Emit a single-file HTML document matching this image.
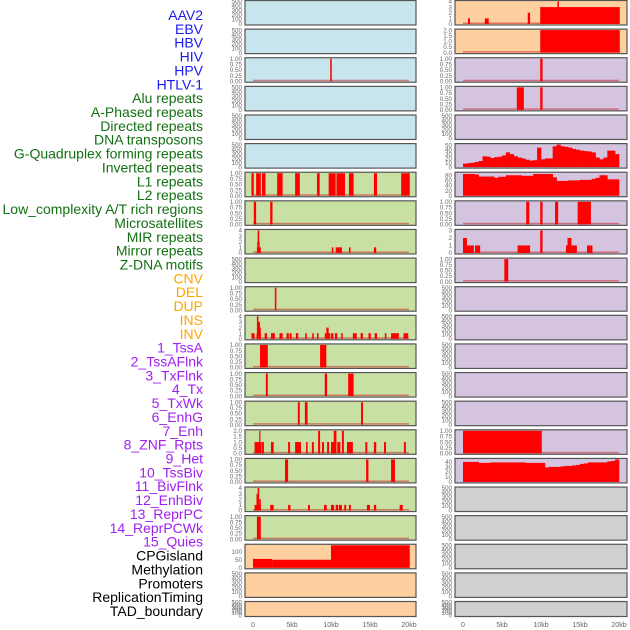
<!DOCTYPE html>
<html><head><meta charset="utf-8"><style>
html,body{margin:0;padding:0;background:#fff;width:630px;height:630px;overflow:hidden}
svg{display:block;font-family:"Liberation Sans",sans-serif}
</style></head><body>
<svg id="chart" width="630" height="630"></svg>
<script>
const NS='http://www.w3.org/2000/svg';
const labels=["AAV2","EBV","HBV","HIV","HPV","HTLV-1","Alu repeats","A-Phased repeats","Directed repeats","DNA transposons","G-Quadruplex forming repeats","Inverted repeats","L1 repeats","L2 repeats","Low_complexity A/T rich regions","Microsatellites","MIR repeats","Mirror repeats","Z-DNA motifs","CNV","DEL","DUP","INS","INV","1_TssA","2_TssAFlnk","3_TxFlnk","4_Tx","5_TxWk","6_EnhG","7_Enh","8_ZNF_Rpts","9_Het","10_TssBiv","11_BivFlnk","12_EnhBiv","13_ReprPC","14_ReprPCWk","15_Quies","CPGisland","Methylation","Promoters","ReplicationTiming","TAD_boundary"];
const labelGroups=[6,13,5,15,5];
const groupColors=["#1a1aee","#137013","#ffa500","#a020f0","#000000"];
const xTicks=[0,5,10,15,20];
const xTickLabels=["0","5kb","10kb","15kb","20kb"];
const leftBg=["#c8e4ec","#c8e4ec","#c8e4ec","#c8e4ec","#c8e4ec","#c8e4ec","#c8e0a4","#c8e0a4","#c8e0a4","#c8e0a4","#c8e0a4","#c8e0a4","#c8e0a4","#c8e0a4","#c8e0a4","#c8e0a4","#c8e0a4","#c8e0a4","#c8e0a4","#fecf9f","#fecf9f","#fecf9f"];
const rightBg=["#fecf9f","#fecf9f","#d4c4e0","#d4c4e0","#d4c4e0","#d4c4e0","#d4c4e0","#d4c4e0","#d4c4e0","#d4c4e0","#d4c4e0","#d4c4e0","#d4c4e0","#d4c4e0","#d4c4e0","#d4c4e0","#d4c4e0","#d0d0d0","#d0d0d0","#d0d0d0","#d0d0d0","#d0d0d0"];
const leftYMax=[0,0,1,0,0,0,1,1,4,0,1,4,1,1,1,2,1,4,1,140,0,0];
const rightYMax=[4,2,1,1,0,52,88,1,3,1,0,0,0,0,0,1,45,0,0,0,0,0];
const leftIntervals={
 2:[[9.9,10.1,1]],
 6:[[-0.2,0.1,1],[0.4,1.0,1],[1.15,1.6,1],[3.1,3.8,1],[5.4,6.0,1],[8.2,8.55,1],[9.7,10.6,1],[10.7,11.8,1],[12.3,12.9,1],[15.5,15.9,1],[19.0,20.1,1]],
 7:[[0.1,0.4,1],[2.2,2.5,1]],
 8:[[0.5,1.0,1],[0.55,0.85,2],[0.6,0.8,4],[10.1,10.3,1],[10.6,11.4,1],[12.3,12.5,1],[15.5,15.8,1]],
 10:[[2.8,3.0,1]],
 11:[[-0.2,0.2,1],[0.45,1.0,1],[0.5,0.7,4],[0.6,0.9,3],[0.7,1.0,2],[1.5,1.8,1],[2.3,2.8,1],[3.4,3.8,1],[4.3,4.6,1],[4.7,4.95,1],[5.5,5.8,1],[6.7,6.9,1],[7.6,7.8,1],[8.2,8.4,1],[9.2,9.9,1],[9.4,9.7,2],[10.0,10.3,1],[10.5,10.8,1],[11.3,11.5,1],[12.8,13.3,1],[13.8,14.1,1],[14.8,15.1,1],[15.6,15.9,1],[16.9,17.1,1],[17.7,18.7,1],[19.3,19.9,1]],
 12:[[0.9,1.9,1],[8.6,9.4,1]],
 13:[[1.65,1.9,1],[9.2,9.5,1],[12.2,12.9,1]],
 14:[[5.75,6.0,1],[6.65,7.0,1],[13.85,14.1,1]],
 15:[[0.2,1.1,1],[0.8,0.95,2],[1.15,1.4,1],[2.3,2.65,1],[4.5,4.75,1],[5.4,6.15,1],[6.8,7.0,1],[7.55,7.8,1],[8.35,8.6,1],[8.35,8.6,2],[8.85,9.1,1],[9.5,9.75,1],[10.0,10.65,1],[10.35,10.7,2],[10.8,11.2,1],[11.4,11.65,2],[12.05,12.8,1],[14.4,14.65,1],[15.5,15.8,1],[16.8,17.05,1],[19.35,19.6,1]],
 16:[[4.1,4.5,1],[14.5,14.8,1],[17.7,18.2,1]],
 17:[[0.2,1.0,1],[0.45,0.75,3],[0.6,0.8,4],[0.8,1.0,2],[2.2,2.65,1],[4.5,4.8,1],[7.05,7.3,1],[9.1,9.45,1],[10.0,10.4,1],[10.6,10.9,1],[11.0,11.4,1],[11.7,11.95,1],[12.3,12.55,1],[14.6,15.0,1],[15.5,15.8,1],[18.8,19.2,1]],
 18:[[0.5,1.0,1]],
 19:[[0,2.45,55],[2.45,10.0,50],[10.0,20.1,140]]
};
const rightIntervals={
 0:[[0.64,0.9,1],[2.8,3.3,1],[8.3,8.6,2],[9.9,20.1,3],[12.1,12.3,4]],
 1:[[9.9,20.1,2]],
 2:[[9.9,10.2,1]],
 3:[[6.9,7.8,1],[9.9,10.2,1]],
 7:[[8.1,8.5,1],[9.9,10.2,1],[11.8,12.2,1],[14.7,16.4,1]],
 8:[[0,0.5,2],[0.5,1.4,1],[1.55,2.2,1],[7.0,8.6,1],[9.9,10.2,3],[13.2,13.4,1],[13.4,13.9,2],[13.9,14.6,1],[15.9,16.6,1]],
 9:[[5.3,5.8,1]],
 15:[[0,10.1,1]]
};
const gQuadValues=[8,9,10,12,14,25,24,21,23,24,27,34,30,25,22,20,17,15,16,45,18,20,20,48,52,48,47,45,42,40,38,37,36,34,22,18,22,38,38,30];
const l1Values=[85,85,85,83,75,75,75,75,70,74,74,80,80,80,80,78,78,78,85,85,85,85,85,72,58,58,58,60,60,60,62,62,62,66,70,80,80,64,64,64];
const bivValues=[40,40,40,40,38,38,38,39,39,39,39,39,39,39,39,39,38,38,38,38,38,29,30,30,30,31,32,32,33,34,36,37,39,39,39,39,39,41,42,45];
const rightBinned={5:gQuadValues,6:l1Values,16:bivValues};

const svg=document.getElementById('chart');
function el(tag,attrs,parent){const e=document.createElementNS(NS,tag);for(const k in attrs)e.setAttribute(k,attrs[k]);(parent||svg).appendChild(e);return e;}
let gi=0,cnt=0;
labels.forEach((t,i)=>{
 while(cnt>=labelGroups[gi]){cnt=0;gi++;}
 cnt++;
 const tx=el('text',{x:203,y:15+i*13.86+5,'text-anchor':'end','font-size':14,fill:groupColors[gi]});
 tx.textContent=t;
 
 
});
const cols=[{x0:245,x1:416,z:253,bg:leftBg,ym:leftYMax,iv:leftIntervals,bn:{},side:'left'},
            {x0:455,x1:627,z:463,bg:rightBg,ym:rightYMax,iv:rightIntervals,bn:rightBinned,side:'right'}];
const PX=7.8;
function ticksFor(m){
 if(m===0)return [[0,'0'],[100,'100'],[200,'200'],[300,'300'],[400,'400'],[500,'500']];
 if(m===1)return [[0,'0.00'],[0.25,'0.25'],[0.5,'0.50'],[0.75,'0.75'],[1,'1.00']];
 if(m===2)return [[0,'0.0'],[0.5,'0.5'],[1,'1.0'],[1.5,'1.5'],[2,'2.0']];
 if(m===3)return [[0,'0'],[1,'1'],[2,'2'],[3,'3']];
 if(m===4)return [[0,'0'],[1,'1'],[2,'2'],[3,'3'],[4,'4']];
 if(m===140)return [[0,'0'],[50,'50'],[100,'100']];
 if(m===52)return [[0,'0'],[10,'10'],[20,'20'],[30,'30'],[40,'40'],[50,'50']];
 if(m===88)return [[0,'0'],[20,'20'],[40,'40'],[60,'60'],[80,'80']];
 if(m===45)return [[0,'0'],[10,'10'],[20,'20'],[30,'30'],[40,'40']];
 return [];
}
for(let r=0;r<22;r++){
 const top=0.5+r*28.62;
 const h=(r===21)?15:24.5;
 const bot=top+h;
 cols.forEach(c=>{
  const g=el('g',{});
  
  
  el('rect',{x:c.x0,y:top,width:c.x1-c.x0,height:h,fill:c.bg[r],stroke:'#555','stroke-width':1.2},g);
  const m=c.ym[r];
  const ymax=m===0?500:m;
  const yv=v=>bot-1-(v/ymax)*(h-2);
  const xk=k=>c.z+k*PX;
  ticksFor(m).forEach(([v,l])=>{
   const t=el('text',{x:c.x0-3,y:yv(v)+2.2,'text-anchor':'end','font-size':6.3,fill:'#6a6a6a'},g);
   t.textContent=l;
  });
  const ivs=c.iv[r];
  const bins=c.bn[r];
  if(ivs||bins){
   el('rect',{x:xk(0),y:bot-2.5,width:20*PX,height:1.5,fill:'rgba(200,40,40,0.55)'},g);
  }
  if(ivs)ivs.forEach(([s,e,v])=>{
   const b=el('rect',{x:xk(s),y:yv(v),width:Math.max(1,(e-s)*PX),height:bot-1-yv(v),fill:'#ff0000'},g);
   
   
  });
  if(bins)bins.forEach((v,i)=>{
   const b=el('rect',{x:xk(i*0.5),y:yv(v),width:0.5*PX+0.3,height:bot-1-yv(v),fill:'#ff0000'},g);
   
   
  });
 });
}
cols.forEach(c=>{
 xTicks.forEach((k,i)=>{
  const t=el('text',{x:c.z+k*PX,y:627,'text-anchor':'middle','font-size':7,fill:'#666'});
  t.textContent=xTickLabels[i];
  
  
 });
});
</script>
</body></html>
